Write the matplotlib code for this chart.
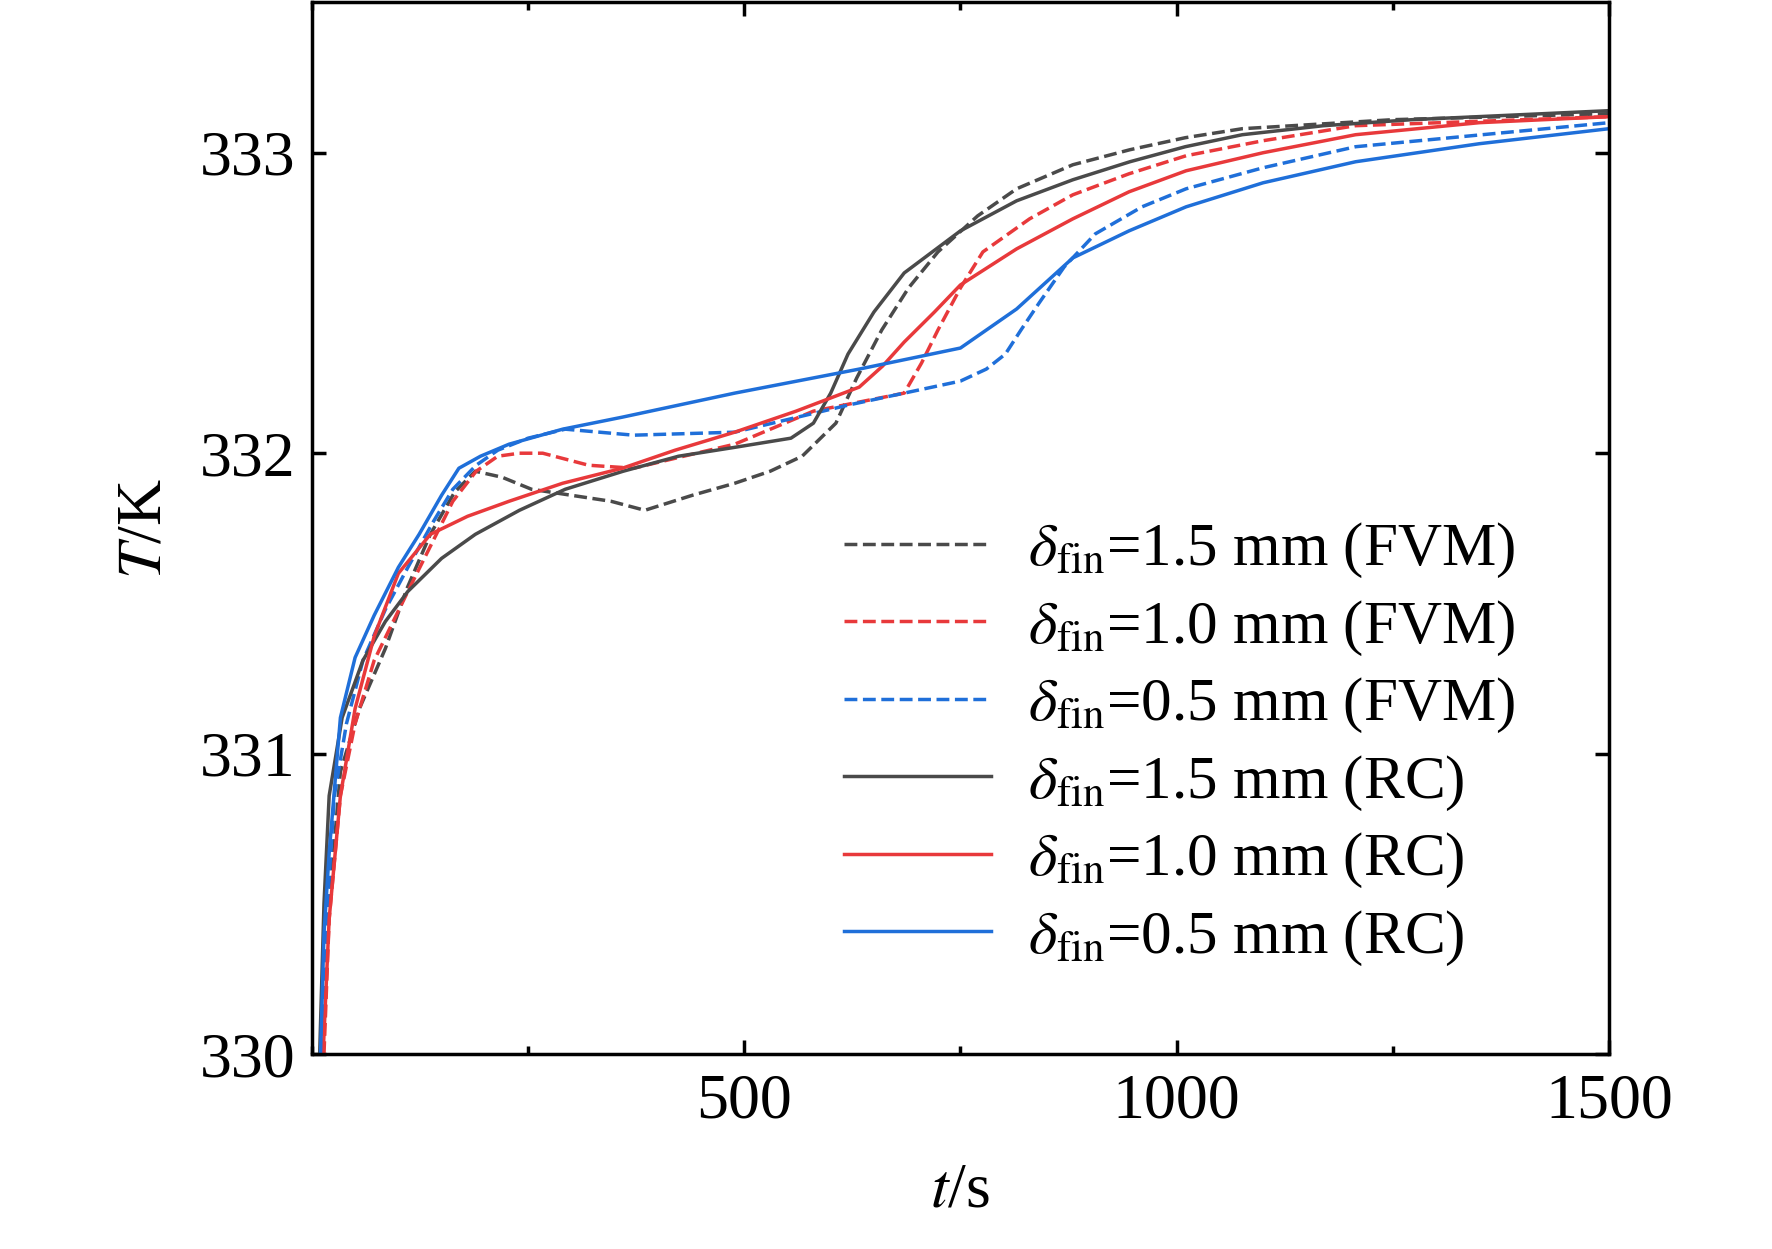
import matplotlib
matplotlib.use("Agg")
import matplotlib.pyplot as plt
from matplotlib.ticker import MultipleLocator

plt.rcParams['font.family'] = ['Liberation Serif', 'DejaVu Serif']
plt.rcParams['mathtext.fontset'] = 'stix'

# RC curves
t_rc15 = [9, 14, 20, 35, 59, 85, 111, 150, 189, 240, 293, 360, 424, 490, 554, 580, 600, 620, 650, 685, 750, 815, 880, 946, 1010, 1076, 1170, 1272, 1500]
T_rc15 = [330.0, 330.5, 330.86, 331.12, 331.31, 331.44, 331.54, 331.65, 331.73, 331.81, 331.88, 331.94, 331.99, 332.02, 332.05, 332.1, 332.2, 332.33, 332.47, 332.6, 332.74, 332.84, 332.91, 332.97, 333.02, 333.06, 333.09, 333.11, 333.14]
t_rc10 = [13, 20, 33, 50, 72, 100, 137, 180, 228, 290, 359, 420, 489, 560, 633, 660, 685, 720, 750, 815, 880, 945, 1011, 1100, 1207, 1350, 1500]
T_rc10 = [330.0, 330.45, 330.86, 331.15, 331.39, 331.6, 331.73, 331.79, 331.84, 331.9, 331.95, 332.01, 332.07, 332.14, 332.22, 332.29, 332.37, 332.47, 332.56, 332.68, 332.78, 332.87, 332.94, 333.0, 333.06, 333.1, 333.12]
t_rc05 = [10, 14, 20, 33, 50, 72, 100, 124, 150, 170, 195, 228, 290, 359, 489, 633, 750, 780, 815, 880, 945, 1011, 1100, 1207, 1350, 1500]
T_rc05 = [330.0, 330.4, 330.67, 331.12, 331.32, 331.46, 331.62, 331.73, 331.86, 331.95, 331.99, 332.03, 332.08, 332.12, 332.2, 332.28, 332.35, 332.41, 332.48, 332.65, 332.74, 332.82, 332.9, 332.97, 333.03, 333.08]

# FVM curves
t_fv15 = [13, 20, 33, 55, 85, 110, 137, 165, 189, 220, 254, 300, 346, 385, 440, 489, 530, 567, 606, 630, 659, 690, 724, 770, 815, 880, 946, 1010, 1076, 1250, 1500]
T_fv15 = [330.0, 330.5, 330.94, 331.15, 331.35, 331.55, 331.73, 331.87, 331.94, 331.92, 331.88, 331.86, 331.84, 331.81, 331.86, 331.9, 331.94, 331.99, 332.1, 332.25, 332.41, 332.55, 332.67, 332.79, 332.88, 332.96, 333.01, 333.05, 333.08, 333.11, 333.13]
t_fv10 = [14, 20, 33, 50, 72, 111, 163, 190, 215, 240, 267, 320, 372, 430, 489, 580, 685, 705, 724, 750, 776, 830, 880, 945, 1011, 1100, 1207, 1500]
T_fv10 = [330.0, 330.45, 330.86, 331.1, 331.31, 331.54, 331.84, 331.94, 331.99, 332.0, 332.0, 331.96, 331.95, 331.99, 332.03, 332.14, 332.2, 332.3, 332.41, 332.55, 332.67, 332.78, 332.86, 332.93, 332.99, 333.04, 333.09, 333.12]
t_fv05 = [12, 18, 26, 40, 59, 85, 111, 140, 163, 190, 215, 250, 293, 372, 489, 620, 750, 780, 802, 820, 841, 870, 906, 960, 1011, 1100, 1207, 1500]
T_fv05 = [330.0, 330.5, 330.86, 331.1, 331.31, 331.48, 331.62, 331.77, 331.88, 331.96, 332.01, 332.05, 332.08, 332.06, 332.07, 332.16, 332.24, 332.28, 332.33, 332.41, 332.5, 332.62, 332.73, 332.82, 332.88, 332.95, 333.02, 333.1]

c_k, c_r, c_b = '#4a4a4a', '#e8393b', '#1f6fd9'

fig = plt.figure(figsize=(17.72, 12.49), dpi=100)
ax = fig.add_axes([0.176, 0.156, 0.732, 0.842])
lw = 2.5
ax.plot(t_fv15, T_fv15, '--', color=c_k, lw=lw, label=r'$\delta_{\rm fin}$=1.5 mm (FVM)')
ax.plot(t_fv10, T_fv10, '--', color=c_r, lw=lw, label=r'$\delta_{\rm fin}$=1.0 mm (FVM)')
ax.plot(t_fv05, T_fv05, '--', color=c_b, lw=lw, label=r'$\delta_{\rm fin}$=0.5 mm (FVM)')
ax.plot(t_rc15, T_rc15, '-', color=c_k, lw=lw, label=r'$\delta_{\rm fin}$=1.5 mm (RC)')
ax.plot(t_rc10, T_rc10, '-', color=c_r, lw=lw, label=r'$\delta_{\rm fin}$=1.0 mm (RC)')
ax.plot(t_rc05, T_rc05, '-', color=c_b, lw=lw, label=r'$\delta_{\rm fin}$=0.5 mm (RC)')

ax.set_xlim(0, 1500)
ax.set_ylim(330, 333.5)
ax.xaxis.set_minor_locator(MultipleLocator(250))
ax.yaxis.set_major_locator(MultipleLocator(1))
ax.set_xticks([500, 1000, 1500])
ax.tick_params(which='both', direction='in', top=True, right=True, width=2.5, labelsize=46)
ax.tick_params(which='major', length=10)
ax.tick_params(which='minor', length=6)
ax.tick_params(axis='x', pad=14)
ax.tick_params(axis='y', pad=12)
for s in ax.spines.values():
    s.set_linewidth(2.5)
ax.set_xlabel(r'$t$/s', fontsize=46, labelpad=22)
ax.set_ylabel(r'$T$/K', fontsize=46, labelpad=18)
ax.legend(loc='lower right', bbox_to_anchor=(0.97, 0.03), frameon=False, fontsize=44,
          handlelength=2.4, handletextpad=0.6, labelspacing=0.3)
fig.savefig('out.png', dpi=100)
